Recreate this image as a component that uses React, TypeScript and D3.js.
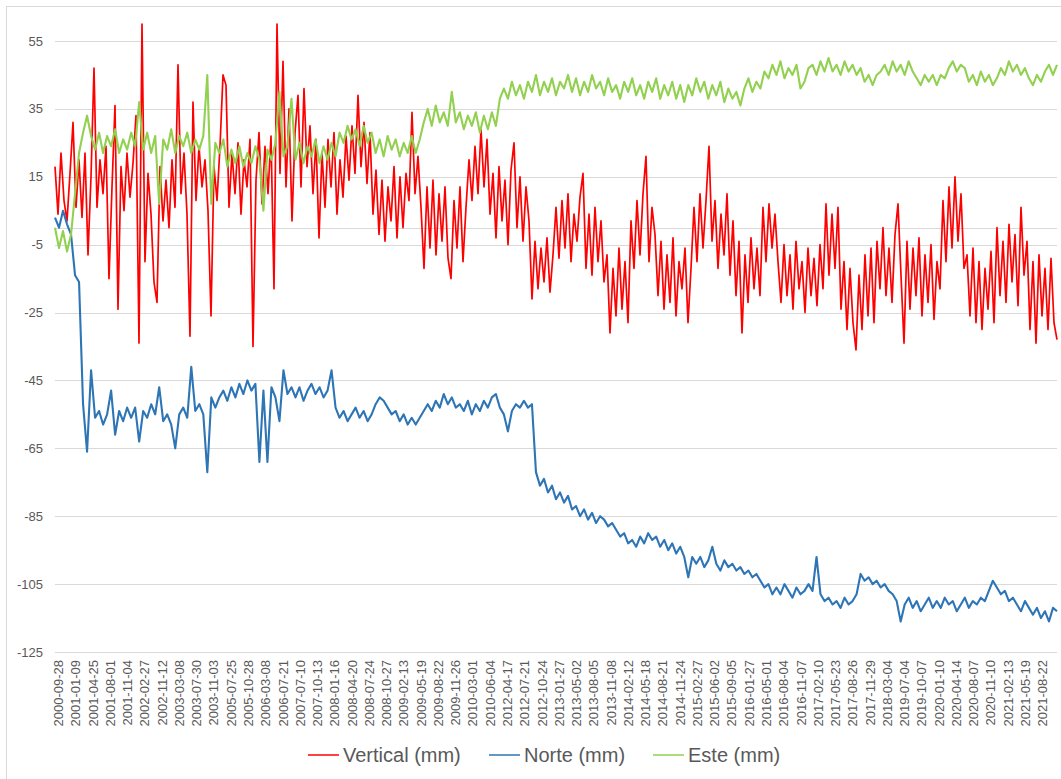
import React, { useRef, useEffect } from 'react';
import * as d3 from 'd3';

// category labels shown under the axis (every Nth observation date)
const xLabels = [
	'2000-09-28', '2001-01-09', '2001-04-25', '2001-08-01', '2001-11-04', '2002-02-27',
	'2002-11-12', '2003-03-08', '2003-07-30', '2003-11-03', '2005-07-25', '2005-10-28',
	'2006-03-08', '2006-07-21', '2007-07-10', '2007-10-13', '2008-01-16', '2008-04-20',
	'2008-07-24', '2008-10-27', '2009-02-13', '2009-05-19', '2009-08-22', '2009-11-26',
	'2010-03-01', '2010-06-04', '2012-04-17', '2012-07-21', '2012-10-24', '2013-01-27',
	'2013-05-02', '2013-08-05', '2013-11-08', '2014-02-12', '2014-05-18', '2014-08-21',
	'2014-11-24', '2015-02-27', '2015-06-02', '2015-09-05', '2016-01-27', '2016-05-01',
	'2016-08-04', '2016-11-07', '2017-02-10', '2017-05-23', '2017-08-26', '2017-11-29',
	'2018-03-04', '2019-07-04', '2019-10-07', '2020-01-10', '2020-04-14', '2020-08-07',
	'2020-11-10', '2021-02-13', '2021-05-19', '2021-08-22',
];

const yTicks = [-125, -105, -85, -65, -45, -25, -5, 15, 35, 55];

// values, evenly spaced over the whole period
const verticalMm = [
	18, 4, 22, 8, 2, 16, 31, 6, 20, 3,
	22, -8, 15, 47, 6, 20, 10, 24, -15, 12,
	36, -24, 18, 5, 22, 9, 19, 33, -34, 60,
	-10, 16, 4, -16, -22, 18, 2, 14, 0, 20,
	6, 48, 10, 22, 4, -32, 37, 8, 24, 12,
	20, 5, -26, 18, 8, 24, 45, 42, 6, 22,
	10, 25, 4, 20, 12, 26, -35, 14, 28, 7,
	24, 10, 27, -18, 60, 16, 49, 12, 35, 2,
	28, 39, 12, 41, 18, 30, 10, 26, -3, 22,
	6, 26, 12, 28, 4, 20, 9, 27, 14, 30,
	16, 39, 18, 31, 13, 28, 4, 17, -2, 14,
	-4, 12, 2, 18, -3, 15, 0, 16, 8, 34,
	10, 21, 6, -12, 12, -6, 14, -8, 10, -4,
	12, -9, -15, 8, -6, 12, -10, 6, 20, 8,
	24, 10, 29, 12, 26, 4, 16, -3, 18, 2,
	14, -5, 17, 25, 0, 15, -4, 12, 2, -21,
	-4, -18, -6, -16, -3, -19, -8, 6, -9, 8,
	-6, 10, -10, 4, -4, 9, 16, -12, 4, -14,
	6, -10, 2, -16, -8, -31, -12, -26, -6, -24,
	-10, -28, 2, -12, 8, -8, 10, 21, -10, 6,
	-2, -20, -4, -24, -8, -22, -3, -26, -10, -18,
	-6, -28, -12, 6, -10, 10, -6, 8, 24, -4,
	8, -12, 4, -8, 10, -14, 2, -20, -4, -31,
	-8, -22, -3, -18, -6, -20, 6, -10, 7, -6,
	4, -10, -22, -5, -20, -8, -24, -4, -18, -10,
	-25, -6, -20, -9, -23, -5, -18, 7, -14, 4,
	-12, 6, -24, -10, -30, -12, -28, -36, -14, -30,
	-8, -26, -6, -28, -4, -18, 0, -20, -6, -22,
	-2, 7, -14, -34, -4, -24, -6, -20, -3, -26,
	-8, -22, -5, -27, -10, -18, 8, -10, 12, -6,
	15, -4, 10, -12, -8, -26, -6, -28, -10, -30,
	-12, -24, -7, -28, 0, -20, -4, -22, 1, -16,
	-2, -23, 6, -14, -4, -30, -10, -34, -8, -26,
	-12, -30, -9, -28, -33,
];

const norteMm = [
	3, 0, 5, 1, -2, -14, -16, -52, -66, -42,
	-56, -54, -58, -55, -48, -61, -54, -57, -53, -56,
	-53, -63, -54, -56, -52, -55, -47, -57, -55, -58,
	-65, -55, -53, -56, -41, -54, -52, -55, -72, -50,
	-53, -50, -48, -51, -47, -50, -46, -49, -45, -48,
	-46, -69, -48, -69, -47, -50, -57, -42, -49, -47,
	-50, -47, -51, -48, -46, -49, -47, -50, -48, -42,
	-53, -56, -54, -57, -55, -53, -56, -54, -57, -55,
	-52, -50, -51, -53, -55, -54, -57, -55, -58, -56,
	-58, -56, -54, -52, -54, -51, -53, -49, -52, -50,
	-53, -52, -54, -51, -55, -52, -54, -51, -53, -50,
	-49, -53, -55, -60, -54, -52, -53, -51, -53, -52,
	-72, -76, -74, -78, -76, -80, -78, -81, -79, -83,
	-82, -85, -83, -86, -84, -87, -85, -86, -88, -87,
	-89, -91, -90, -93, -92, -94, -91, -93, -90, -92,
	-91, -94, -92, -95, -93, -96, -94, -97, -103, -97,
	-99, -97, -100, -98, -94, -99, -101, -98, -100, -99,
	-101, -100, -102, -101, -103, -102, -104, -106, -105, -108,
	-106, -108, -105, -107, -109, -106, -108, -107, -105, -107,
	-97, -108, -110, -109, -111, -110, -112, -109, -111, -110,
	-108, -102, -104, -103, -105, -104, -106, -105, -107, -108,
	-110, -116, -111, -109, -112, -110, -113, -111, -109, -112,
	-110, -112, -109, -111, -110, -113, -111, -109, -112, -110,
	-111, -109, -110, -107, -104, -106, -108, -107, -110, -109,
	-111, -113, -110, -112, -114, -112, -115, -113, -116, -112,
	-113,
];

const esteMm = [
	0, -6, -1, -7, -2, 10, 22, 28, 33, 27,
	23, 28, 22, 27, 24, 29, 22, 26, 23, 28,
	24, 37, 23, 28, 22, 27, 7, 26, 23, 29,
	22, 27, 24, 28, 22, 26, 23, 27, 45, 7,
	25, 22, 26, 18, 23, 19, 24, 18, 22, 19,
	24, 20, 5, 23, 20, 25, 40, 21, 24, 38,
	20, 25, 19, 24, 21, 26, 19, 24, 20, 25,
	21, 28, 25, 30, 26, 29, 24, 30, 25, 28,
	22, 26, 21, 27, 23, 26, 21, 25, 22, 27,
	22, 26, 31, 35, 30, 36, 31, 34, 30, 40,
	31, 34, 29, 33, 30, 34, 28, 33, 29, 34,
	30, 38, 41, 38, 43, 39, 42, 38, 43, 40,
	45, 39, 43, 40, 44, 39, 43, 41, 45, 40,
	44, 39, 43, 40, 45, 41, 43, 39, 44, 40,
	42, 38, 43, 40, 44, 39, 42, 38, 43, 40,
	44, 38, 42, 39, 43, 38, 42, 37, 42, 39,
	44, 40, 43, 38, 42, 39, 43, 37, 41, 38,
	40, 36, 41, 44, 40, 43, 41, 46, 44, 48,
	45, 49, 44, 47, 45, 48, 41, 43, 47, 48,
	45, 49, 46, 50, 46, 48, 45, 49, 46, 48,
	45, 47, 43, 45, 42, 45, 46, 48, 45, 49,
	46, 48, 45, 49, 46, 44, 42, 45, 43, 45,
	42, 45, 44, 47, 49, 46, 48, 47, 43, 45,
	42, 46, 43, 45, 42, 44, 47, 45, 49, 46,
	48, 45, 47, 44, 42, 45, 43, 46, 48, 45,
	48,
];

const seriesNames = ['Vertical (mm)', 'Norte (mm)', 'Este (mm)'];
const seriesColors = ['#ff0000', '#2e75b6', '#92d050'];
// the original lines are very dense, so they read thicker than one pixel
const seriesWidths = [1.7, 2.1, 2.1];

const App: React.FC = () => {
	const svgRef = useRef<SVGSVGElement | null>(null);

	useEffect(() => {
		const svg = d3.select(svgRef.current);
		svg.selectAll('*').remove();

		const width = 1061;
		const height = 779;
		const plot = { left: 55, right: 1057, top: 41, bottom: 652 };
		const font = '"Liberation Sans", Arial, sans-serif';
		const textColor = '#595959';
		const gridColor = '#d9d9d9';

		const yScale = d3
			.scaleLinear()
			.domain([-125, 55])
			.range([plot.bottom, plot.top]);

		const xLabelScale = d3
			.scalePoint<string>()
			.domain(xLabels)
			.range([58.5, 1042.7]);

		// chart frame
		svg.append('rect')
			.attr('x', 6.5)
			.attr('y', 6.5)
			.attr('width', width)
			.attr('height', height)
			.attr('fill', '#fff')
			.attr('stroke', gridColor);

		// horizontal gridlines
		svg.append('g')
			.selectAll('line')
			.data(yTicks)
			.join('line')
			.attr('x1', plot.left)
			.attr('x2', plot.right)
			.attr('y1', (d) => Math.round(yScale(d)) + 0.5)
			.attr('y2', (d) => Math.round(yScale(d)) + 0.5)
			.attr('stroke', gridColor)
			.attr('stroke-width', 1);

		// category axis sits at zero
		svg.append('line')
			.attr('x1', plot.left)
			.attr('x2', plot.right)
			.attr('y1', Math.round(yScale(0)) + 0.5)
			.attr('y2', Math.round(yScale(0)) + 0.5)
			.attr('stroke', gridColor);

		svg.append('g')
			.selectAll('text')
			.data(yTicks)
			.join('text')
			.attr('x', 43)
			.attr('y', (d) => yScale(d))
			.attr('dy', '0.35em')
			.attr('text-anchor', 'end')
			.attr('font-family', font)
			.attr('font-size', 13)
			.attr('fill', textColor)
			.text((d) => d);

		svg.append('g')
			.selectAll('text')
			.data(xLabels)
			.join('text')
			.attr(
				'transform',
				(d) => `translate(${xLabelScale(d)},660) rotate(-90)`
			)
			.attr('dy', '0.35em')
			.attr('text-anchor', 'end')
			.attr('font-family', font)
			.attr('font-size', 13)
			.attr('fill', textColor)
			.text((d) => d);

		// series, drawn in Excel's order so Este ends up on top
		[verticalMm, norteMm, esteMm].forEach((values, i) => {
			const xScale = d3
				.scaleLinear()
				.domain([0, values.length - 1])
				.range([plot.left, plot.right]);
			const line = d3
				.line<number>()
				.x((_, j) => xScale(j))
				.y((d) => yScale(d));
			svg.append('path')
				.datum(values)
				.attr('d', line)
				.attr('fill', 'none')
				.attr('stroke', seriesColors[i])
				.attr('stroke-width', seriesWidths[i])
				.attr('stroke-linejoin', 'round');
		});

		// legend
		const legendX = [308, 489, 653];
		const legend = svg
			.append('g')
			.selectAll('g')
			.data(seriesNames)
			.join('g')
			.attr('transform', (_, i) => `translate(${legendX[i]},755)`);
		legend
			.append('line')
			.attr('x1', 0)
			.attr('x2', 31)
			.attr('stroke', (_, i) => seriesColors[i])
			.attr('stroke-width', 1.5);
		legend
			.append('text')
			.attr('x', 35)
			.attr('dy', '0.35em')
			.attr('font-family', font)
			.attr('font-size', 20)
			.attr('fill', textColor)
			.text((d) => d);
	}, []);

	return (
		<svg
			ref={svgRef}
			width={1061}
			height={779}
			style={{ position: 'absolute', left: 0, top: 0 }}
		/>
	);
};

export default App;
